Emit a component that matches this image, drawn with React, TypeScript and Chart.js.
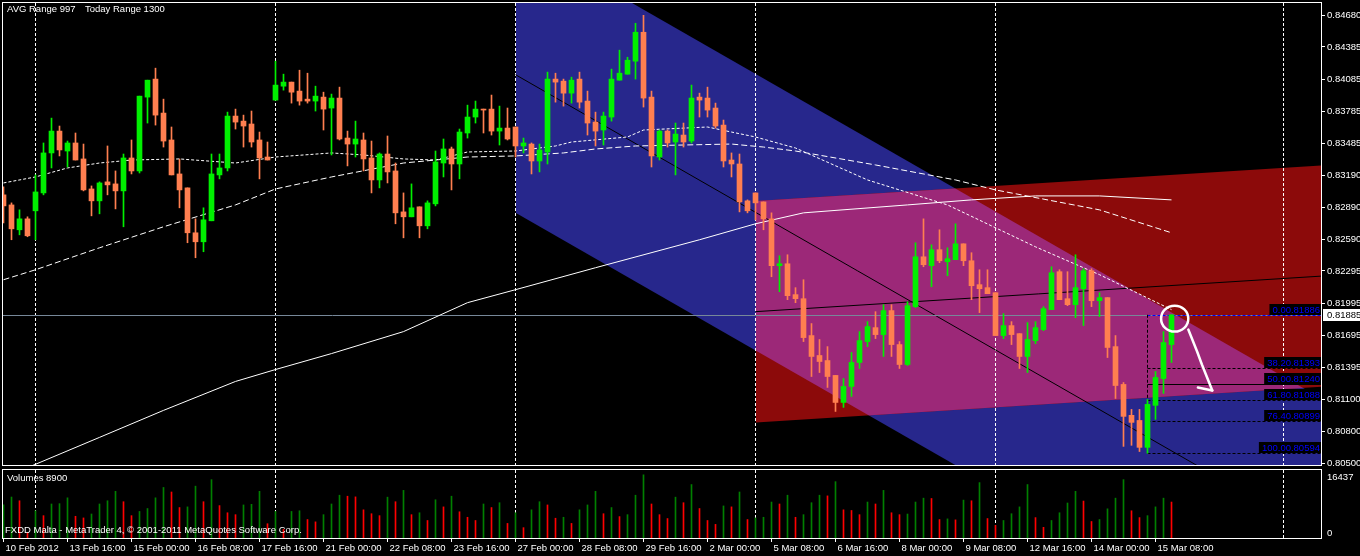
import React, { useEffect, useRef } from "react";
import { Chart, registerables } from "chart.js";

Chart.register(...registerables);

const FONT = "'Liberation Sans', 'DejaVu Sans', Arial, sans-serif";
const UP = "#00f000";
const DOWN = "#ff7f50";
const VOL_UP = "#008000";
const VOL_DOWN = "#ff0000";
const BLUE_FILL = "#27278c";
const RED_FILL = "#8c0a0a";
const PINK_FILL = "#9c2878";

// ---------------- data (H4 bars, 10 Feb 2012 08:00 -> 15 Mar 2012 16:00) ----------------
const opens = [
  0.83005,0.82911,0.82679,0.82781,0.82856,0.83023,0.83396,0.83600,0.83414,0.83489,
  0.83340,0.83060,0.82949,0.83126,0.83107,0.83042,0.83349,0.83228,0.83917,0.84085,
  0.83768,0.83517,0.83200,0.83070,0.82651,0.82567,0.82763,0.83191,0.83256,0.83740,
  0.83693,0.83666,0.83517,0.83358,0.83889,0.84019,0.84057,0.83973,0.83898,0.83880,
  0.83917,0.83815,0.83908,0.83535,0.83479,0.83517,0.83349,0.83144,0.83386,0.83228,
  0.82846,0.82800,0.82893,0.82716,0.82921,0.83302,0.83433,0.83293,0.83582,0.83731,
  0.83805,0.83805,0.83600,0.83628,0.83638,0.83461,0.83479,0.83321,0.83405,0.84085,
  0.84066,0.83954,0.84085,0.83880,0.83684,0.83610,0.83731,0.84075,0.84131,0.84252,
  0.84522,0.83917,0.83358,0.83600,0.83498,0.83563,0.83507,0.83917,0.83908,0.83815,
  0.83656,0.83330,0.83293,0.82949,0.83023,0.82939,0.82781,0.82344,0.82362,0.82074,
  0.82036,0.81692,0.81506,0.81459,0.81320,0.81068,0.81217,0.81441,0.81636,0.81766,
  0.81701,0.81925,0.81608,0.81422,0.81962,0.82427,0.82344,0.82493,0.82381,0.82400,
  0.82548,0.82390,0.82167,0.82139,0.82092,0.81692,0.81785,0.81710,0.81497,0.81645,
  0.81748,0.81934,0.82288,0.82036,0.81980,0.82129,0.82297,0.82017,0.82046,0.81589,
  0.81236,0.80948,0.80900,0.80649,0.81041,0.81291,0.81608,
];
const highs = [
  0.83079,0.82930,0.82865,0.82800,0.83191,0.83489,0.83721,0.83647,0.83507,0.83582,
  0.83479,0.83088,0.83126,0.83461,0.83228,0.83386,0.83517,0.83926,0.84075,0.84187,
  0.83898,0.83638,0.83340,0.83070,0.82781,0.82884,0.83386,0.83386,0.83777,0.83805,
  0.83749,0.83787,0.83591,0.83498,0.84252,0.84131,0.84057,0.84168,0.84140,0.84019,
  0.83963,0.83945,0.84010,0.83600,0.83693,0.83582,0.83507,0.83396,0.83554,0.83302,
  0.83023,0.83107,0.82893,0.82949,0.83414,0.83526,0.83451,0.83619,0.83842,0.83880,
  0.83805,0.83936,0.83833,0.83815,0.83638,0.83535,0.83489,0.83479,0.84150,0.84140,
  0.84085,0.84103,0.84150,0.83973,0.83777,0.83777,0.84178,0.84355,0.84289,0.84606,
  0.84680,0.83973,0.83610,0.83610,0.83675,0.83675,0.84029,0.83954,0.84010,0.83861,
  0.83703,0.83396,0.83386,0.82958,0.83023,0.82939,0.82837,0.82437,0.82446,0.82139,
  0.82213,0.81804,0.81655,0.81589,0.81320,0.81291,0.81534,0.81729,0.81822,0.81915,
  0.81980,0.81980,0.81636,0.82008,0.82558,0.82781,0.82539,0.82679,0.82511,0.82735,
  0.82548,0.82465,0.82306,0.82306,0.82092,0.81897,0.81822,0.81710,0.81813,0.81822,
  0.81962,0.82334,0.82306,0.82288,0.82446,0.82316,0.82316,0.82092,0.82046,0.81692,
  0.81254,0.81003,0.81003,0.81096,0.81357,0.81729,0.81886,
];
const lows = [
  0.82744,0.82586,0.82632,0.82614,0.82586,0.83005,0.83256,0.83368,0.83265,0.83330,
  0.83042,0.82809,0.82828,0.83005,0.82874,0.82707,0.83200,0.83209,0.83675,0.83656,
  0.83451,0.83191,0.82884,0.82558,0.82418,0.82474,0.82763,0.83154,0.83228,0.83619,
  0.83451,0.83451,0.83154,0.83330,0.83889,0.83982,0.83861,0.83842,0.83861,0.83787,
  0.83610,0.83377,0.83517,0.83275,0.83358,0.83228,0.83023,0.83070,0.83116,0.82735,
  0.82604,0.82800,0.82604,0.82688,0.82902,0.83172,0.83051,0.83154,0.83535,0.83675,
  0.83582,0.83563,0.83470,0.83517,0.83358,0.83396,0.83200,0.83219,0.83293,0.83870,
  0.83833,0.83861,0.83815,0.83563,0.83461,0.83470,0.83693,0.84075,0.84131,0.84085,
  0.83824,0.83265,0.83330,0.83451,0.83191,0.83451,0.83489,0.83731,0.83731,0.83628,
  0.83265,0.83172,0.82846,0.82837,0.82772,0.82679,0.82241,0.82101,0.82027,0.81999,
  0.81636,0.81310,0.81347,0.81208,0.80984,0.81022,0.81124,0.81385,0.81589,0.81664,
  0.81497,0.81497,0.81385,0.81413,0.81953,0.82334,0.82148,0.82372,0.82250,0.82400,
  0.82344,0.82027,0.81906,0.82083,0.81692,0.81664,0.81608,0.81385,0.81347,0.81617,
  0.81738,0.81934,0.82027,0.81971,0.81859,0.81785,0.81962,0.81869,0.81487,0.81105,
  0.80658,0.80668,0.80610,0.80594,0.80910,0.81152,0.81441,
];
const closes = [
  0.82902,0.82688,0.82781,0.82623,0.83032,0.83396,0.83600,0.83424,0.83489,0.83330,
  0.83051,0.82949,0.83116,0.83098,0.83042,0.83349,0.83228,0.83926,0.84075,0.83749,
  0.83507,0.83191,0.83051,0.82651,0.82567,0.82772,0.83200,0.83256,0.83740,0.83684,
  0.83647,0.83498,0.83349,0.83330,0.84029,0.84057,0.83963,0.83880,0.83880,0.83926,
  0.83805,0.83908,0.83526,0.83479,0.83526,0.83340,0.83144,0.83386,0.83219,0.82837,
  0.82800,0.82884,0.82716,0.82930,0.83312,0.83433,0.83293,0.83591,0.83731,0.83805,
  0.83796,0.83600,0.83628,0.83526,0.83461,0.83489,0.83321,0.83424,0.84085,0.84057,
  0.83954,0.84075,0.83870,0.83675,0.83600,0.83740,0.84085,0.84140,0.84261,0.84522,
  0.83908,0.83368,0.83600,0.83489,0.83572,0.83498,0.83908,0.83889,0.83796,0.83647,
  0.83321,0.83293,0.82939,0.82856,0.82930,0.82781,0.82344,0.82362,0.82064,0.82036,
  0.81673,0.81497,0.81450,0.81310,0.81068,0.81217,0.81441,0.81645,0.81776,0.81701,
  0.81925,0.81608,0.81422,0.81971,0.82427,0.82353,0.82493,0.82390,0.82409,0.82548,
  0.82390,0.82157,0.82129,0.82083,0.81692,0.81785,0.81701,0.81497,0.81655,0.81766,
  0.81943,0.82278,0.82027,0.81980,0.82139,0.82297,0.82017,0.82046,0.81581,0.81226,
  0.80938,0.80882,0.80649,0.81050,0.81301,0.81627,0.81885,
];
const volumes = [
  8000,9900,9000,1330,6580,5400,8220,8300,9710,5250,
  4850,5800,8220,9000,11280,8770,5400,6420,7125,9710,
  12215,11120,7360,7520,12530,8770,14100,7830,6100,5640,
  7990,8140,11280,3450,6420,2110,6420,6580,4460,3900,
  5640,8220,10340,10100,9940,6810,5870,5400,9870,8770,
  11510,5640,6100,4230,9240,7520,10100,6340,5010,4230,
  8220,7360,8530,3520,6100,2500,6810,8770,7990,4780,
  5010,3520,6810,7990,11280,5870,7360,5170,5640,10340,
  15270,8220,5640,4700,9870,8530,12920,7125,4230,3290,
  7750,7520,11120,4460,4850,5010,8690,8220,10340,5010,
  5640,8530,10340,10180,13620,6810,6650,5640,8690,8220,
  11510,6100,5640,5790,8690,9630,9550,4460,4620,4380,
  9160,9000,13390,4700,3050,4230,5870,7520,12920,4930,
  2580,4230,6100,8460,11280,8930,3990,4460,7050,9630,
  14100,6580,4930,5400,7520,9630,8690,
];

// moving averages, read at bar indices
const maFastIdx = [0,4,8,12,16,22,29,34,41,45,50,54,58,64,69,71,78,80,88,91,94,99,108,118,129,137,146];
const maFastVal = [0.83116,0.83172,0.83256,0.83302,0.83330,0.83340,0.83302,0.83358,0.83396,0.83377,0.83340,0.83330,0.83405,0.83414,0.83461,0.83498,0.83545,0.83610,0.83638,0.83591,0.83545,0.83442,0.83144,0.82911,0.82520,0.82260,0.81934];
const maMidIdx = [0,4,12,20,29,34,41,50,58,64,70,74,79,91,95,99,109,119,124,137,146];
const maMidVal = [0.82213,0.82306,0.82511,0.82707,0.82911,0.83060,0.83172,0.83302,0.83358,0.83368,0.83396,0.83433,0.83461,0.83479,0.83451,0.83414,0.83284,0.83144,0.83051,0.82865,0.82651];
const maSlowIdx = [0,4,12,20,29,34,41,50,58,64,74,87,94,100,113,121,129,137,146];
const maSlowVal = [0.80370,0.80491,0.80742,0.80994,0.81264,0.81375,0.81524,0.81729,0.81999,0.82120,0.82325,0.82586,0.82735,0.82837,0.82911,0.82958,0.82995,0.82995,0.82958];

// regression channels: [start bar, end bar], upper / lower values at those bars
const blueChanIdx = [64, 165];
const blueChanUpper = [0.85416, 0.81093];
const blueChanLower = [0.82836, 0.78513];
const redChanIdx = [94, 165];
const redChanUpper = [0.82948, 0.83281];
const redChanLower = [0.80882, 0.81215];

// Fibonacci retracement
const fibStartIdx = 143;
const fibLevels = ["0.0", "38.2", "50.0", "61.8", "76.4", "100.0"];
const fibPrices = [0.81886, 0.81393, 0.81240, 0.81088, 0.80899, 0.80594];

const bidPrice = 0.81885;
const gridIdx = [4, 34, 64, 94, 124, 160];
const priceTicks = [0.84680,0.84385,0.84085,0.83785,0.83485,0.83190,0.82890,0.82590,0.82295,0.81995,0.81695,0.81395,0.81100,0.80800,0.80500];
const dateTickIdx = [0,8,16,24,32,40,48,56,64,72,80,88,96,104,112,120,128,136,144];
const dateLabels = ["10 Feb 2012","13 Feb 16:00","15 Feb 00:00","16 Feb 08:00","17 Feb 16:00","21 Feb 00:00","22 Feb 08:00","23 Feb 16:00","27 Feb 00:00","28 Feb 08:00","29 Feb 16:00","2 Mar 00:00","5 Mar 08:00","6 Mar 16:00","8 Mar 00:00","9 Mar 08:00","12 Mar 16:00","14 Mar 00:00","15 Mar 08:00"];

// hand-drawn marks (bar index / price)
const markCircleIdx = [144.7, 148.1];
const markCirclePrice = [0.81971, 0.81729];
const arrowIdx = [148.1, 148.6, 149.2, 149.8, 150.4, 151.1];
const arrowPrice = [0.81748, 0.81655, 0.81543, 0.81422, 0.81310, 0.81180];
const arrowWingIdx = [149.3];
const arrowWingPrice = [0.81208];

const avgRangeLabel = "AVG Range 997";
const todayRangeLabel = "Today Range 1300";
const volumesLabel = "Volumes 8900";
const copyrightLabel = "FXDD Malta - MetaTrader 4, \u00a9 2001-2011 MetaQuotes Software Corp.";
const volAxisMax = 16437;

const X_MIN = -0.0625;
const X_MAX = 164.6875;
const Y_MIN = 0.80475;
const Y_MAX = 0.84795;

// ---------------- plugins ----------------
const mainPlugin = {
  id: "mt4Main",
  beforeDatasetsDraw(chart: any) {
    const { ctx, chartArea: a, scales } = chart;
    const X = (i: number) => scales.x.getPixelForValue(i);
    const Y = (p: number) => scales.y.getPixelForValue(p);
    ctx.save();
    ctx.beginPath();
    ctx.rect(a.left, a.top, a.right - a.left, a.bottom - a.top);
    ctx.clip();

    const chanPath = (idx: number[], up: number[], lo: number[]) => {
      const x0 = Math.round(X(idx[0]));
      const x1 = X(idx[1]);
      ctx.beginPath();
      ctx.moveTo(x0, Y(up[0]));
      ctx.lineTo(x1, Y(up[1]));
      ctx.lineTo(x1, Y(lo[1]));
      ctx.lineTo(x0, Y(lo[0]));
      ctx.closePath();
    };
    ctx.fillStyle = BLUE_FILL;
    chanPath(blueChanIdx, blueChanUpper, blueChanLower);
    ctx.fill();
    ctx.fillStyle = RED_FILL;
    chanPath(redChanIdx, redChanUpper, redChanLower);
    ctx.fill();
    ctx.save();
    chanPath(blueChanIdx, blueChanUpper, blueChanLower);
    ctx.clip();
    ctx.fillStyle = PINK_FILL;
    chanPath(redChanIdx, redChanUpper, redChanLower);
    ctx.fill();
    ctx.restore();

    // vertical grid
    ctx.lineWidth = 1;
    ctx.strokeStyle = "#ffffff";
    ctx.setLineDash([3, 2]);
    gridIdx.forEach((i) => {
      const x = Math.round(X(i)) - 0.5;
      ctx.beginPath();
      ctx.moveTo(x, a.top);
      ctx.lineTo(x, a.bottom);
      ctx.stroke();
    });

    // channel middle lines
    ctx.setLineDash([]);
    ctx.strokeStyle = "#000000";
    [
      [blueChanIdx, blueChanUpper, blueChanLower],
      [redChanIdx, redChanUpper, redChanLower],
    ].forEach(([idx, up, lo]) => {
      ctx.beginPath();
      ctx.moveTo(X(idx[0]), Y((up[0] + lo[0]) / 2));
      ctx.lineTo(X(idx[1]), Y((up[1] + lo[1]) / 2));
      ctx.stroke();
    });

    // bid line
    ctx.strokeStyle = "#778899";
    const by = Math.round(Y(bidPrice)) + 0.5;
    ctx.beginPath();
    ctx.moveTo(a.left, by);
    ctx.lineTo(a.right, by);
    ctx.stroke();

    // fibo lines
    const fx = Math.round(X(fibStartIdx)) - 0.5;
    fibPrices.forEach((p, k) => {
      const y = Math.round(Y(p)) + 0.5;
      ctx.strokeStyle = k === 0 ? "#0000ff" : "#000000";
      ctx.setLineDash(k === 2 ? [] : [3, 2]);
      ctx.beginPath();
      ctx.moveTo(fx, y);
      ctx.lineTo(a.right, y);
      ctx.stroke();
    });
    ctx.strokeStyle = "#000000";
    ctx.setLineDash([3, 2]);
    ctx.beginPath();
    ctx.moveTo(fx, Y(fibPrices[0]));
    ctx.lineTo(fx, Y(fibPrices[fibPrices.length - 1]));
    ctx.stroke();
    ctx.restore();
  },
  afterDatasetsDraw(chart: any) {
    const { ctx, chartArea: a, scales } = chart;
    const X = (i: number) => scales.x.getPixelForValue(i);
    const Y = (p: number) => scales.y.getPixelForValue(p);
    ctx.save();
    ctx.beginPath();
    ctx.rect(a.left, a.top, a.right - a.left, a.bottom - a.top);
    ctx.clip();

    // fibo labels
    ctx.font = `9.5px ${FONT}`;
    ctx.textAlign = "right";
    ctx.textBaseline = "middle";
    fibLevels.forEach((lv, k) => {
      const text = lv + fibPrices[k].toFixed(5);
      const y = Math.round(Y(fibPrices[k]));
      const w = ctx.measureText(text).width;
      const right = a.right - 1;
      ctx.fillStyle = "#000000";
      ctx.fillRect(right - w - 3, y - 11, w + 4, 11);
      ctx.fillStyle = "#0000ff";
      ctx.fillText(text, right, y - 5);
    });

    // hand-drawn circle and arrow
    ctx.strokeStyle = "#ffffff";
    ctx.lineWidth = 2.5;
    ctx.lineJoin = "round";
    ctx.lineCap = "round";
    const cx0 = X(markCircleIdx[0]), cx1 = X(markCircleIdx[1]);
    const cy0 = Y(markCirclePrice[0]), cy1 = Y(markCirclePrice[1]);
    ctx.beginPath();
    ctx.ellipse((cx0 + cx1) / 2, (cy0 + cy1) / 2, (cx1 - cx0) / 2, (cy1 - cy0) / 2, 0, 0, Math.PI * 2);
    ctx.stroke();
    ctx.beginPath();
    arrowIdx.forEach((i, k) => {
      const x = X(i), y = Y(arrowPrice[k]);
      if (k === 0) ctx.moveTo(x, y);
      else ctx.lineTo(x, y);
    });
    ctx.stroke();
    const tipX = X(arrowIdx[arrowIdx.length - 1]);
    const tipY = Y(arrowPrice[arrowPrice.length - 1]);
    ctx.beginPath();
    ctx.moveTo(X(arrowWingIdx[0]), Y(arrowWingPrice[0]));
    ctx.lineTo(tipX, tipY);
    ctx.stroke();
    ctx.restore();

    // header text
    ctx.save();
    ctx.font = `9.5px ${FONT}`;
    ctx.fillStyle = "#ffffff";
    ctx.textAlign = "left";
    ctx.textBaseline = "middle";
    ctx.fillText(avgRangeLabel, 7, 9);
    ctx.fillText(todayRangeLabel, 85, 9);
    ctx.restore();
  },
  afterDraw(chart: any) {
    const { ctx, chartArea: a, scales } = chart;
    ctx.save();
    ctx.strokeStyle = "#ffffff";
    ctx.lineWidth = 1;
    ctx.strokeRect(a.left - 0.5, a.top - 0.5, a.right - a.left + 1, a.bottom - a.top);
    // current price tag
    const y = Math.round(scales.y.getPixelForValue(bidPrice));
    ctx.fillStyle = "#ffffff";
    ctx.fillRect(a.right + 2, y - 6, chart.width - a.right - 2, 12);
    ctx.fillStyle = "#000000";
    ctx.font = `9.5px ${FONT}`;
    ctx.textBaseline = "middle";
    ctx.fillText(bidPrice.toFixed(5), a.right + 6, y);
    ctx.restore();
  },
};

const volPlugin = {
  id: "mt4Vol",
  beforeDatasetsDraw(chart: any) {
    const { ctx, chartArea: a, scales } = chart;
    ctx.save();
    ctx.strokeStyle = "#ffffff";
    ctx.lineWidth = 1;
    ctx.setLineDash([3, 2]);
    gridIdx.forEach((i) => {
      const x = Math.round(scales.x.getPixelForValue(i)) - 0.5;
      ctx.beginPath();
      ctx.moveTo(x, a.top);
      ctx.lineTo(x, a.bottom);
      ctx.stroke();
    });
    ctx.restore();
  },
  afterDraw(chart: any) {
    const { ctx, chartArea: a } = chart;
    ctx.save();
    ctx.strokeStyle = "#ffffff";
    ctx.lineWidth = 1;
    ctx.strokeRect(a.left - 0.5, a.top - 0.5, a.right - a.left + 1, a.bottom - a.top + 1);
    ctx.fillStyle = "#ffffff";
    ctx.font = `9.5px ${FONT}`;
    ctx.textBaseline = "middle";
    ctx.textAlign = "left";
    ctx.fillText(volumesLabel, 7, 10);
    ctx.fillText(copyrightLabel, 5, 62);
    ctx.fillText(String(volAxisMax), a.right + 6, 9);
    ctx.fillText("0", a.right + 6, 65);
    ctx.restore();
  },
};

export default function App() {
  const mainRef = useRef<HTMLCanvasElement>(null);
  const volRef = useRef<HTMLCanvasElement>(null);

  useEffect(() => {
    const bars = opens.map((_, i) => i);
    const candleColors = bars.map((i) => (closes[i] >= opens[i] ? UP : DOWN));
    const volColors = volumes.map((v, i) => (i === 0 || v > volumes[i - 1] ? VOL_UP : VOL_DOWN));
    const maLine = (idx: number[], val: number[], dash: number[]) => ({
      type: "line" as const,
      data: idx.map((x, k) => ({ x, y: val[k] })),
      borderColor: "#ffffff",
      borderWidth: 1,
      borderDash: dash,
      pointRadius: 0,
      tension: 0,
      fill: false,
      order: 2,
    });

    const main = new Chart(mainRef.current!, {
      type: "bar",
      data: {
        datasets: [
          maLine(maSlowIdx, maSlowVal, []),
          maLine(maMidIdx, maMidVal, [6, 3]),
          maLine(maFastIdx, maFastVal, [3, 2]),
          {
            type: "bar",
            data: bars.map((i) => ({ x: i, y: [lows[i], highs[i]] })),
            backgroundColor: candleColors,
            borderWidth: 0,
            barThickness: 1,
            grouped: false,
            order: 1,
          },
          {
            type: "bar",
            data: bars.map((i) => ({ x: i, y: [opens[i], closes[i]] })),
            backgroundColor: candleColors,
            borderWidth: 0,
            barThickness: 5,
            minBarLength: 1,
            grouped: false,
            order: 0,
          },
        ] as any,
      },
      options: {
        responsive: false,
        animation: false,
        events: [],
        layout: { padding: { left: 3, right: 0, top: 3, bottom: 2 } },
        plugins: { legend: { display: false }, tooltip: { enabled: false } },
        scales: {
          x: {
            type: "linear",
            min: X_MIN,
            max: X_MAX,
            offset: false,
            display: false,
          },
          y: {
            type: "linear",
            position: "right",
            min: Y_MIN,
            max: Y_MAX,
            afterBuildTicks: (s: any) => {
              s.ticks = priceTicks.map((v) => ({ value: v }));
            },
            afterFit: (s: any) => {
              s.width = 39;
              s.paddingTop = 0;
              s.paddingBottom = 0;
            },
            border: { display: false },
            grid: { drawOnChartArea: false, drawTicks: true, tickLength: 4, color: "#ffffff" },
            ticks: {
              autoSkip: false,
              color: "#ffffff",
              padding: 2,
              font: { family: FONT, size: 9.5 },
              callback: (v: any) => Number(v).toFixed(5),
            },
          },
        },
      } as any,
      plugins: [mainPlugin],
    });

    const vol = new Chart(volRef.current!, {
      type: "bar",
      data: {
        datasets: [
          {
            data: bars.map((i) => ({ x: i, y: volumes[i] })),
            backgroundColor: volColors,
            borderWidth: 0,
            barThickness: 1,
            grouped: false,
          },
        ] as any,
      },
      options: {
        responsive: false,
        animation: false,
        events: [],
        layout: { padding: { left: 3, right: 0, top: 2, bottom: 0 } },
        plugins: { legend: { display: false }, tooltip: { enabled: false } },
        scales: {
          x: {
            type: "linear",
            min: X_MIN,
            max: X_MAX,
            offset: false,
            afterBuildTicks: (s: any) => {
              s.ticks = dateTickIdx.map((v) => ({ value: v }));
            },
            afterFit: (s: any) => {
              s.height = 18;
              s.paddingLeft = 0;
              s.paddingRight = 0;
            },
            border: { display: false },
            grid: { offset: false, drawOnChartArea: false, drawTicks: true, tickLength: 4, color: "#ffffff" },
            ticks: {
              autoSkip: false,
              maxRotation: 0,
              minRotation: 0,
              align: "start",
              labelOffset: 2,
              padding: 1,
              color: "#ffffff",
              font: { family: FONT, size: 9.5 },
              callback: (v: any) => dateLabels[dateTickIdx.indexOf(Number(v))] ?? "",
            },
          },
          y: {
            type: "linear",
            position: "right",
            min: 0,
            max: volAxisMax,
            afterFit: (s: any) => {
              s.width = 39;
              s.paddingTop = 0;
              s.paddingBottom = 0;
            },
            border: { display: false },
            grid: { display: false },
            ticks: { display: false },
          },
        },
      } as any,
      plugins: [volPlugin],
    });

    return () => {
      main.destroy();
      vol.destroy();
    };
  }, []);

  return (
    <div style={{ position: "fixed", left: 0, top: 0, width: 1360, height: 556, background: "#000", overflow: "hidden" }}>
      <canvas ref={mainRef} width={1360} height={468} style={{ position: "absolute", left: 0, top: 0, display: "block" }} />
      <canvas ref={volRef} width={1360} height={88} style={{ position: "absolute", left: 0, top: 468, display: "block" }} />
    </div>
  );
}
